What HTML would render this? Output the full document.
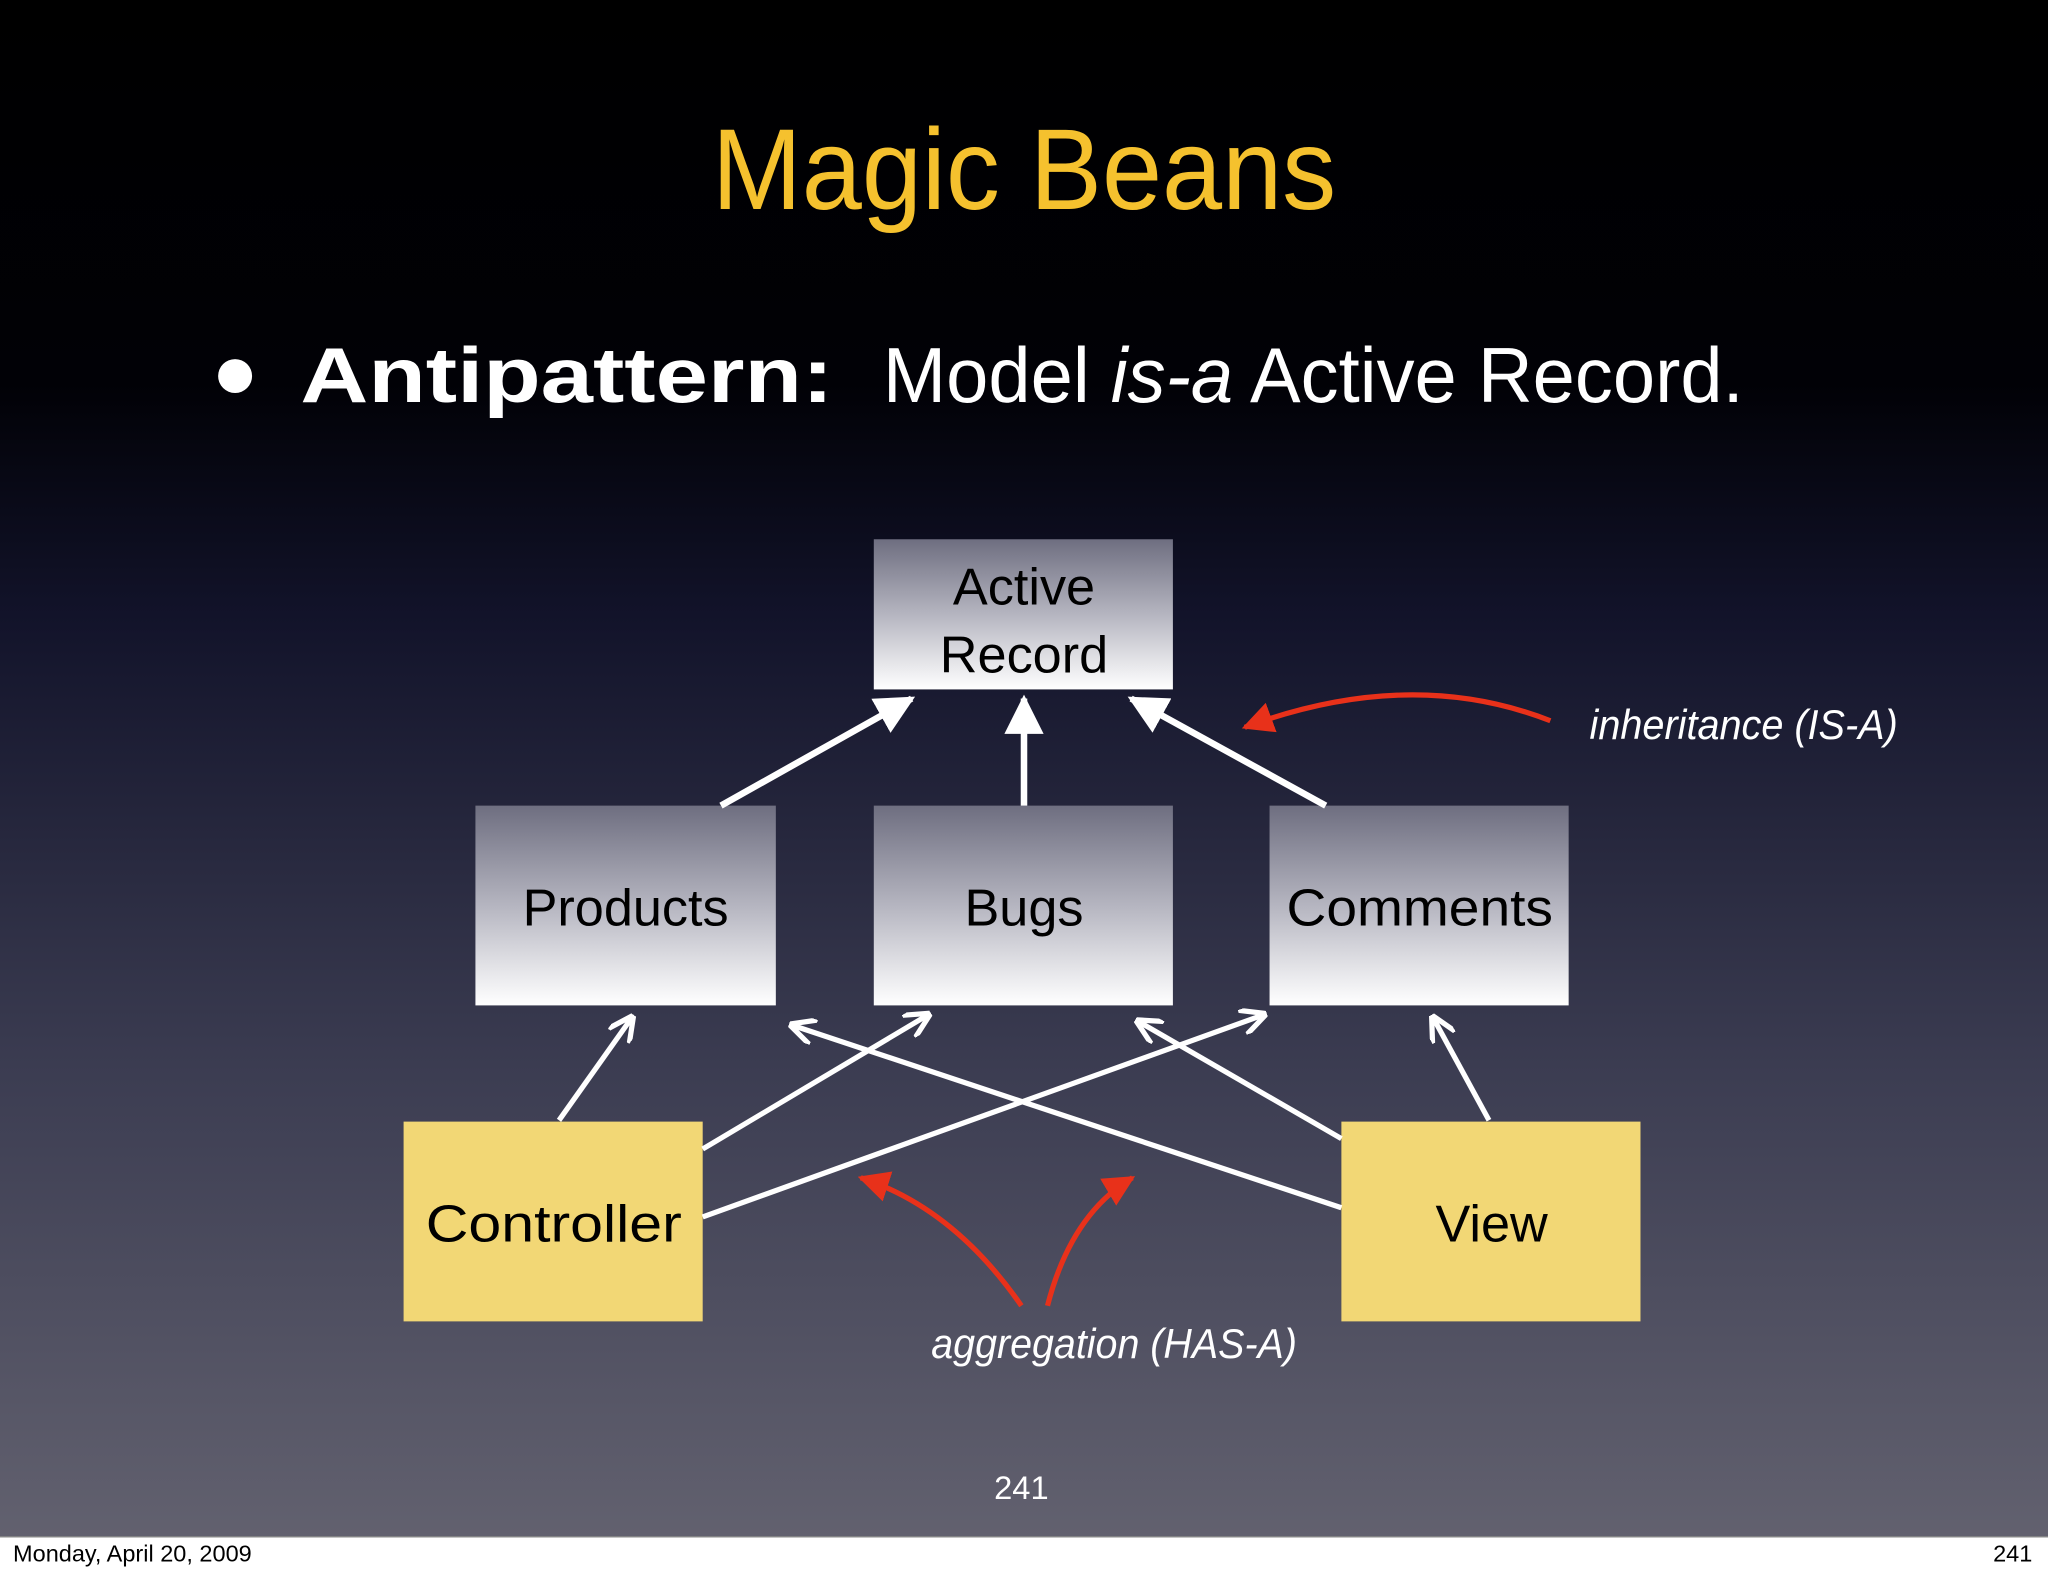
<!DOCTYPE html>
<html><head><meta charset="utf-8"><style>
html,body{margin:0;padding:0;width:2048px;height:1576px;overflow:hidden;background:#fff}
svg{display:block}
</style></head><body>
<svg width="2048" height="1576" viewBox="0 0 1568 1207" preserveAspectRatio="none" xmlns="http://www.w3.org/2000/svg">
<defs>
<linearGradient id="bg" x1="0" y1="0" x2="0" y2="1">
<stop offset="0" stop-color="#000"/>
<stop offset="0.25" stop-color="#010106"/>
<stop offset="0.4" stop-color="#12132a"/>
<stop offset="0.7" stop-color="#3c3d52"/>
<stop offset="1" stop-color="#62616f"/>
</linearGradient>
<linearGradient id="box" x1="0" y1="0" x2="0" y2="1">
<stop offset="0" stop-color="#6e6e80"/>
<stop offset="0.5" stop-color="#b5b5c0"/>
<stop offset="1" stop-color="#ffffff"/>
</linearGradient>
<marker id="fa" viewBox="0 0 10 10" refX="9" refY="5" markerWidth="6" markerHeight="6" orient="auto" markerUnits="strokeWidth">
<path d="M0,0 L10,5 L0,10 z" fill="#fff"/></marker>
<marker id="oa" viewBox="0 0 10 10" refX="9" refY="5" markerWidth="5" markerHeight="5" orient="auto" markerUnits="strokeWidth">
<path d="M0,0 L10,5 L0,10" fill="none" stroke="#fff" stroke-width="2"/></marker>
<marker id="ra" viewBox="0 0 10 10" refX="9" refY="5" markerWidth="6" markerHeight="6" orient="auto" markerUnits="strokeWidth">
<path d="M0,0 L10,5 L0,10 z" fill="#e8311a"/></marker>
</defs>
<rect x="0" y="0" width="1568" height="1177" fill="url(#bg)"/>
<text x="545" y="160" textLength="478" lengthAdjust="spacingAndGlyphs" font-family="Liberation Sans, sans-serif" font-size="88" fill="#f5c12e">Magic Beans</text>
<circle cx="180" cy="288" r="13" fill="#fff"/>
<text x="230" y="308" textLength="408" lengthAdjust="spacingAndGlyphs" font-family="Liberation Sans, sans-serif" font-size="60" font-weight="bold" fill="#fff">Antipattern:</text>
<text x="676" y="308" textLength="659" lengthAdjust="spacingAndGlyphs" font-family="Liberation Sans, sans-serif" font-size="60" fill="#fff">Model <tspan font-style="italic">is-a</tspan> Active Record.</text>
<g font-family="Liberation Sans, sans-serif" font-size="40" fill="#000" text-anchor="middle">
<rect x="669" y="413" width="229" height="115" fill="url(#box)"/>
<text x="784" y="463">Active</text><text x="784" y="515">Record</text>
<rect x="364" y="617" width="230" height="153" fill="url(#box)"/>
<text x="479" y="709">Products</text>
<rect x="669" y="617" width="229" height="153" fill="url(#box)"/>
<text x="784" y="709">Bugs</text>
<rect x="972" y="617" width="229" height="153" fill="url(#box)"/>
<text x="1087" y="709" textLength="204" lengthAdjust="spacingAndGlyphs">Comments</text>
<rect x="309" y="859" width="229" height="153" fill="#f2d775"/>
<text x="424" y="951" textLength="196" lengthAdjust="spacingAndGlyphs">Controller</text>
<rect x="1027" y="859" width="229" height="153" fill="#f2d775"/>
<text x="1142" y="951">View</text>
</g>
<g stroke="#fff" stroke-width="5" fill="none">
<line x1="552" y1="617" x2="698" y2="535" marker-end="url(#fa)"/>
<line x1="784" y1="617" x2="784" y2="535" marker-end="url(#fa)"/>
<line x1="1015" y1="617" x2="866" y2="535" marker-end="url(#fa)"/>
</g>
<g stroke="#fff" stroke-width="4" fill="none">
<line x1="428" y1="858" x2="484" y2="779" marker-end="url(#oa)"/>
<line x1="538" y1="880" x2="711" y2="777" marker-end="url(#oa)"/>
<line x1="538" y1="932" x2="968" y2="777" marker-end="url(#oa)"/>
<line x1="1027" y1="925" x2="606" y2="785" marker-end="url(#oa)"/>
<line x1="1027" y1="872" x2="871" y2="782" marker-end="url(#oa)"/>
<line x1="1140" y1="858" x2="1097" y2="779" marker-end="url(#oa)"/>
</g>
<g stroke="#e8311a" stroke-width="4" fill="none">
<path d="M1187,552 Q1080,510 953,557" marker-end="url(#ra)"/>
<path d="M782,1000 Q730,925 659,902" marker-end="url(#ra)"/>
<path d="M802,1000 Q820,930 867,902" marker-end="url(#ra)"/>
</g>
<g font-family="Liberation Sans, sans-serif" font-style="italic" font-size="32" fill="#fff">
<text x="1217" y="566" textLength="236" lengthAdjust="spacingAndGlyphs">inheritance (IS-A)</text>
<text x="713" y="1040" textLength="280" lengthAdjust="spacingAndGlyphs">aggregation (HAS-A)</text>
</g>
<text x="782" y="1148" text-anchor="middle" font-family="Liberation Sans, sans-serif" font-size="25" fill="#fff">241</text>
<rect x="0" y="1177" width="1568" height="30" fill="#fff"/>
<line x1="0" y1="1177" x2="1568" y2="1177" stroke="#888" stroke-width="1"/>
<text x="10" y="1196" font-family="Liberation Sans, sans-serif" font-size="18" fill="#000">Monday, April 20, 2009</text>
<text x="1556" y="1196" text-anchor="end" font-family="Liberation Sans, sans-serif" font-size="18" fill="#000">241</text>
</svg>
</body></html>
